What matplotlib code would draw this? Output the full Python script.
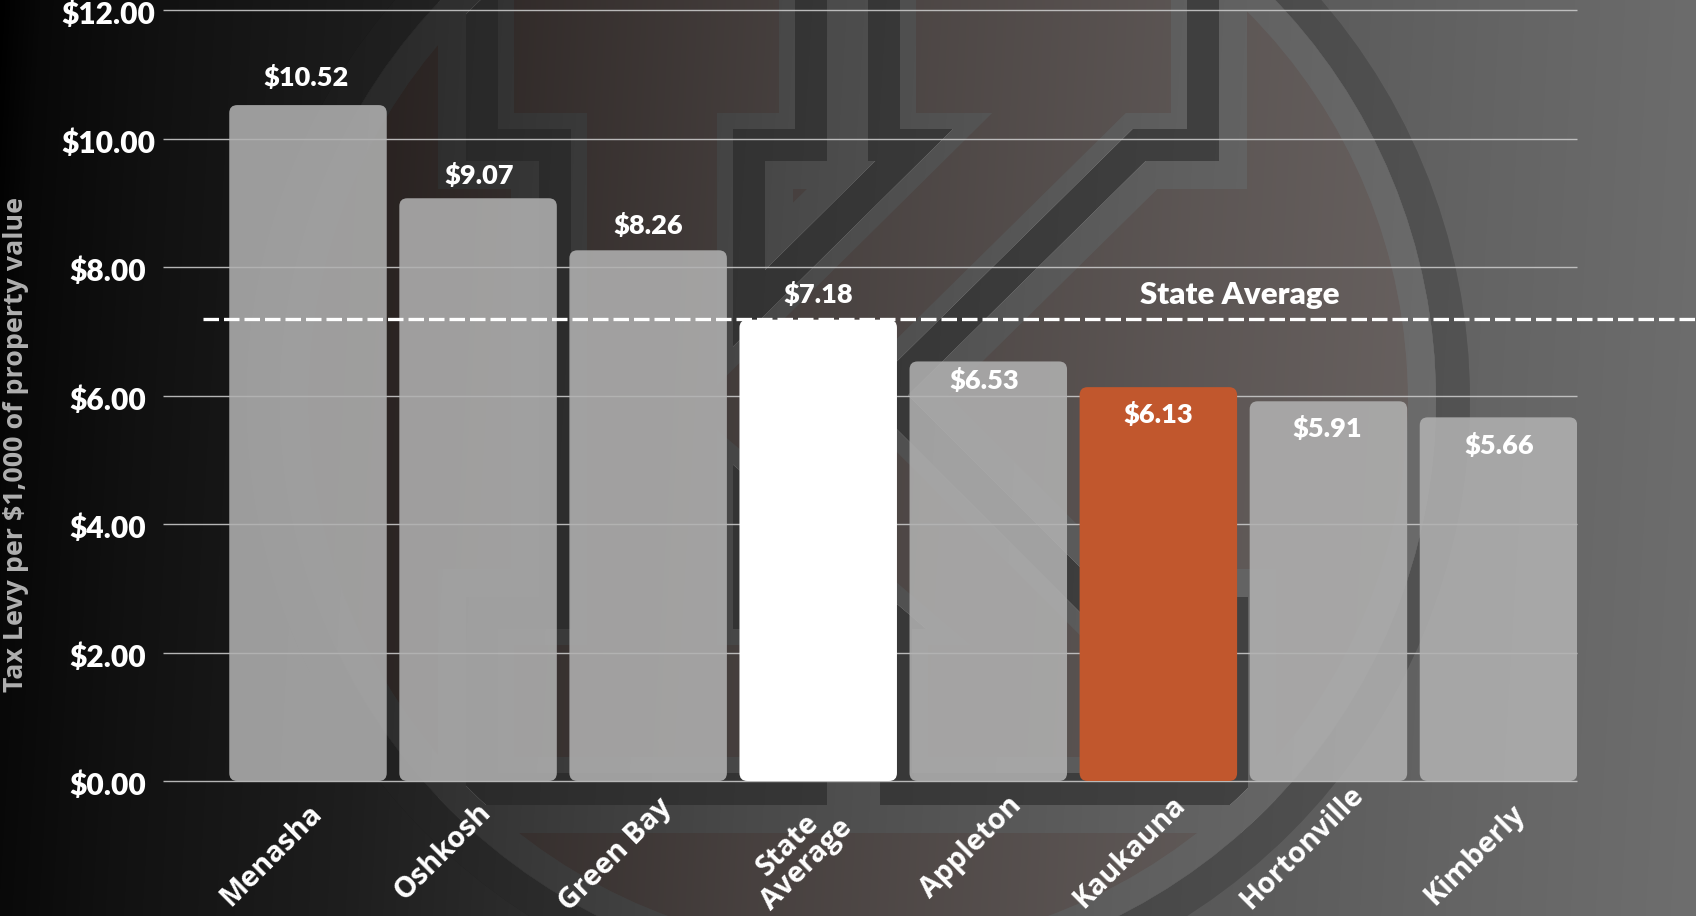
import numpy as np
import matplotlib
matplotlib.use("Agg")
import matplotlib.pyplot as plt
from matplotlib.figure import Figure
from matplotlib.backends.backend_agg import FigureCanvasAgg
from matplotlib.patches import FancyBboxPatch, Polygon, Circle
from matplotlib.transforms import ScaledTranslation
from matplotlib.ticker import FixedLocator

# ---- data ----
districts = ["Menasha", "Oshkosh", "Green Bay", "State\nAverage", "Appleton",
             "Kaukauna", "Hortonville", "Kimberly"]
levy = [10.52, 9.07, 8.26, 7.18, 6.53, 6.13, 5.91, 5.66]
state_average = 7.18
y_ticks = [0, 2, 4, 6, 8, 10, 12]

# ---- style ----
W, H, DPI = 1696, 916, 100
px = 72 / DPI
GREY, WHITE, ORANGE = "#b1b1b1", "#ffffff", "#c1572d"
bar_colors = [GREY, GREY, GREY, WHITE, GREY, ORANGE, GREY, GREY]
bar_alpha = [0.87, 0.87, 0.87, 1, 0.87, 1, 0.87, 0.87]
label_shift_px = [28, 23, 25, 25, -19, -27, -27, -28]
label_x_shift_px = [-2, 1, 0, 0, -4, 0, -1, 1]
tick_x_shift_px = [-37, -35, -33, -21, -17, -29, -26, -24]
tick_y_shift_px = [0, 3, 0, 0, 8, 3, 7, 0]
label_font = ["Lato", "DejaVu Sans"]
wide_font = ["Open Sans", "DejaVu Sans"]

# ---- background watermark (pixel space) ----
K = [(514, -60), (779, -60), (779, 113), (717, 113), (717, 385), (992, 113),
     (916, 113), (916, -60), (1171, -60), (1171, 113), (1126, 113), (840, 395),
     (1090, 645), (1200, 645), (1200, 757), (928, 757), (928, 645), (970, 645),
     (717, 430), (717, 645), (779, 645), (779, 757), (514, 757), (514, 645),
     (587, 645), (587, 113), (514, 113)]
CX, CY = 858, 400


def layer_image(role):
    def c(tint, alpha):
        return tint if role == "tint" else (alpha, alpha, alpha)
    brown = c((150 / 255, 85 / 255, 70 / 255), 0.1)
    light = c((1, 1, 1), 0.06)
    dark = c((45 / 255, 45 / 255, 45 / 255), 0.55)
    ring_dark = c((35 / 255, 35 / 255, 35 / 255), 0.26)
    f = Figure(figsize=(W / DPI, H / DPI), dpi=DPI, facecolor=c((0, 0, 0), 0))
    FigureCanvasAgg(f)
    a = f.add_axes([0, 0, 1, 1])
    a.set_xlim(0, W)
    a.set_ylim(H, 0)
    a.axis("off")
    a.add_patch(Circle((CX, CY), 552, fc=brown, ec="none"))
    for lw, col in [(152, light), (96, dark), (32, light)]:
        a.add_patch(Polygon(K, closed=True, fc=col, ec=col, lw=lw * px, joinstyle="miter"))
    a.add_patch(Polygon(K, closed=True, fc=brown, ec="none"))
    a.add_patch(Circle((CX, CY), 595, fc="none", ec=ring_dark, lw=34 * px))
    a.add_patch(Circle((CX, CY), 564, fc="none", ec=light, lw=28 * px))
    f.canvas.draw()
    return np.asarray(f.canvas.buffer_rgba())[..., :3].astype(float) / 255


xx, yy = np.meshgrid(np.arange(W), np.arange(H))
grad_pos = [0, 40, 160, 400, 800, 1200, 1500, 1800]
grad_val = [0, 8, 17, 30, 62, 86, 100, 112]
grad = np.interp(xx + 0.06 * yy, grad_pos, grad_val) / 255
tint, alpha = layer_image("tint"), layer_image("alpha")
bg = grad[..., None] * (1 - alpha) + tint * alpha

# ---- chart ----
fig = plt.figure(figsize=(W / DPI, H / DPI), dpi=DPI)
fig.figimage(np.clip(bg, 0, 1), 0, 0, origin="upper", zorder=-5)
fig.patch.set_alpha(0)

LEFT, RIGHT, TOP, BASE = 163, 1577, 10, 781
ax = fig.add_axes([LEFT / W, 1 - BASE / H, (RIGHT - LEFT) / W, (BASE - TOP) / H])
ax.patch.set_alpha(0)
step, first = 170.07, 308
ax.set_xlim((LEFT - first) / step, (RIGHT - first) / step)
ax.set_ylim(0, 12)
for s in ax.spines.values():
    s.set_visible(False)

xpos = np.arange(len(levy))
bw = 157.5 / step
radius_x = 8 / step
aspect = step / ((BASE - TOP) / 12)
for x, v, col, al in zip(xpos, levy, bar_colors, bar_alpha):
    ax.add_patch(FancyBboxPatch((x - bw / 2, 0), bw, v,
                                boxstyle=f"round,pad=0,rounding_size={radius_x}",
                                mutation_aspect=aspect, fc=col, ec="none", alpha=al, zorder=3))

ax.yaxis.set_major_locator(FixedLocator(y_ticks))
ax.set_yticklabels([f"${t:.2f}" for t in y_ticks], fontsize=21.5, color="white",
                   fontweight="heavy", family=label_font, ha="center")
ax.tick_params(axis="y", length=0, pad=55 * px)
for lab in ax.get_yticklabels():
    lab.set_transform(lab.get_transform() + ScaledTranslation(0, -2.5 / DPI, fig.dpi_scale_trans))
ax.grid(axis="y", color="#c8c8c8", lw=1.4 * px, alpha=0.9, zorder=1)
for gl in ax.get_ygridlines():
    gl.set_clip_on(False)
    gl.set_solid_capstyle("butt")
ax.set_axisbelow(True)

ax.set_xticks(xpos)
ax.set_xticklabels(districts, rotation=45, ha="center", va="center", fontsize=20.7,
                   color="white", fontweight="bold", family=wide_font, linespacing=0.95)
ax.tick_params(axis="x", length=0, pad=74 * px)
for lab, dx, dy in zip(ax.get_xticklabels(), tick_x_shift_px, tick_y_shift_px):
    lab.set_transform(lab.get_transform() + ScaledTranslation(dx / DPI, dy / DPI, fig.dpi_scale_trans))

for x, v, dy, dx in zip(xpos, levy, label_shift_px, label_x_shift_px):
    ax.annotate(f"${v:.2f}", (x, v), xytext=(dx * px, dy * px), textcoords="offset points",
                ha="center", va="center", fontsize=19.5, color="white", fontweight="heavy",
                family=label_font, zorder=6)

dash_line, = ax.plot([(203 - first) / step, (W - first) / step], [state_average, state_average],
                     color="white", lw=3.3 * px, dashes=(15.5 / 3.3, 5 / 3.3), clip_on=False, zorder=5)
dash_line.set_transform(ax.transData + ScaledTranslation(0, 1 / DPI, fig.dpi_scale_trans))
ax.annotate("State Average", ((1240 - first) / step, state_average), xytext=(0, 25 * px),
            textcoords="offset points", ha="center", va="center", fontsize=22.5, color="white",
            fontweight="heavy", family=label_font, zorder=6)

fig.text(16 / W, 1 - 444 / H, "Tax Levy per $1,000 of property value", rotation=90, ha="center",
         va="center", fontsize=19.3, color="#b0b0b0", fontweight="bold", family=wide_font)

fig.savefig("out.png", dpi=DPI, facecolor="black")
